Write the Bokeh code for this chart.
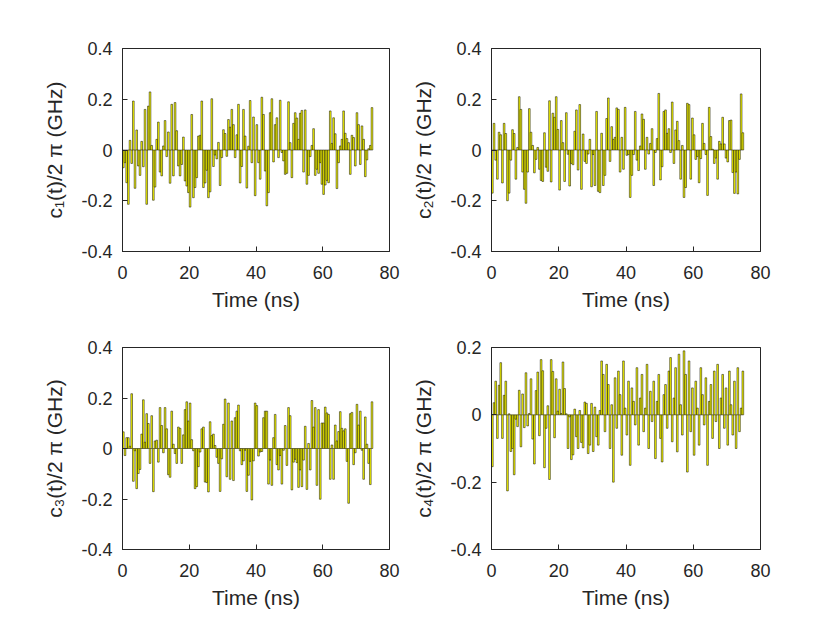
import math
from bokeh.plotting import figure
from bokeh.layouts import column, row
from bokeh.models import Range1d, FixedTicker
from bokeh.embed import file_html
from bokeh.resources import INLINE

dt = 0.5  # ns per pulse segment

c1 = [-0.07, -0.05, -0.129, -0.214, 0.038, -0.053, 0.193, -0.151, 0.079, -0.063,
      -0.1, 0.034, -0.066, 0.16, -0.214, 0.173, 0.229, 0.018, -0.198, -0.146,
      0.042, 0.11, -0.087, -0.102, 0.016, 0.116, -0.026, 0.071, -0.131, 0.18,
      -0.102, 0.187, 0.076, -0.063, -0.102, -0.057, 0.051, -0.122, -0.142, -0.168,
      -0.225,
      0.14, -0.188, -0.148, -0.109, 0.055, 0.058, 0.193, -0.148, -0.13, -0.08,
      -0.188, -0.165, 0.202, -0.065, -0.02, -0.035, 0.03, -0.14, -0.03, 0.08,
      0.065, -0.025, 0.12, 0.09, 0.16, 0.1, -0.03, 0.06, 0.18, -0.13,
      -0.065, 0.16, 0.055, -0.15, 0.015, 0.195, -0.05, 0.13, -0.18, 0.1,
      -0.05,
      -0.115, 0.208, 0.14, -0.083, -0.22, -0.168, 0.147, 0.202, -0.047, 0.1,
      0.127, -0.03, 0.196, -0.01, -0.043, -0.096, -0.092, 0.19, 0.029, -0.109,
      0.105, 0.147, 0.126, 0.042, 0.145, 0.156, -0.087, 0.158, -0.135, -0.1,
      -0.026, 0.018, 0.084, -0.1, -0.076, -0.092, -0.05, -0.135, -0.175, -0.138,
      -0.12, -0.129, 0.154, 0.026, 0.127, 0.064, -0.152, -0.05, 0.016, 0.042,
      0.154, 0.066, 0.045, 0.029, -0.096, 0.058, 0.049, -0.063, 0.147, 0.1,
      -0.057, 0.095, 0.042, -0.105, -0.039, 0.005, 0.018, 0.167]

c2 = [-0.17, 0.105, -0.04, -0.115, 0.07, 0.06, -0.13, 0.105, 0.065, -0.2,
      -0.17, -0.04, 0.08, 0.065, -0.115, 0.01, 0.21, 0.16, -0.087, -0.155,
      -0.21, -0.087, 0.163, 0.07, 0.018, -0.09, -0.037, 0.01, -0.076, -0.12,
      -0.124, 0.068, -0.068, -0.084, 0.194, -0.126, 0.145, 0.129, 0.21, 0.081,
      -0.158, 0.116, 0.029, -0.124, 0.147, -0.017, -0.142, -0.053, -0.058, 0.074,
      0.158, -0.079, 0.179, -0.155, 0.063, -0.045, -0.053, -0.016, 0.042, -0.145,
      -0.018, -0.14, 0.152, -0.163, -0.168, 0.066, -0.14, -0.1, 0.124, 0.205,
      -0.045, 0.092, 0.042, 0.05, 0.166, 0.16, -0.087, 0.05, -0.076, 0.168,
      -0.021, -0.018, -0.187, -0.1, -0.018, 0.152, -0.04, -0.081, 0.016, 0.142,
      0.121, -0.076, 0.05, -0.016, 0.026, 0.084, -0.14, -0.01, 0.045, 0.223,
      -0.118, -0.066, 0.152, 0.158, 0.066, 0.084, -0.01, 0.189, -0.053, 0.079,
      0.113, 0.037, -0.115, 0.018, -0.187, -0.148, 0.184, 0.179, -0.115, 0.126,
      0.06, -0.037, -0.026, -0.129, -0.034, 0.105, 0.026, -0.018, -0.179, 0.168,
      0.053, 0.003, -0.053, -0.032, -0.115, 0.034, 0.024, 0.129, 0.024, -0.032,
      -0.047, 0.116, 0.118, -0.089, -0.171, -0.087, -0.173, -0.037, 0.221, 0.068]

c3 = [0.066, -0.028, 0.043, 0.043, 0.009, 0.217, -0.13, -0.009, -0.159, -0.099,
      -0.083, 0.057, 0.193, 0.025, 0.138, 0.099, -0.059, 0.13, -0.171, 0.03,
      0.033, -0.054, 0.162, 0.091, -0.017, 0.162, 0.078, -0.104, -0.114, 0.148,
      0.017, -0.02, -0.059, 0.085, 0.08, -0.059, 0.054, 0.154, 0.185, 0.109,
      0.18, 0.035, -0.009, -0.159, -0.151, -0.072, -0.014, 0.078, 0.085, -0.133,
      -0.135, -0.172, 0.106, 0.051, 0.057, 0.012, -0.035, -0.059, -0.17, -0.041,
      0.096, 0.196, -0.112, 0.18, -0.122, 0.109, -0.127, 0.122, 0.148, 0.172,
      -0.009, -0.064, -0.049, -0.007, -0.17, -0.106, -0.051, -0.204, -0.049, 0.18,
      0.17, -0.03, -0.014, -0.012, 0.122, 0.148, 0.148, -0.141, -0.046, -0.146,
      0.043, 0.135, -0.064, -0.085, -0.028, -0.141, -0.007, 0.091, -0.067, 0.162,
      0.13, -0.164, -0.054, -0.043, -0.056, -0.154, -0.085, -0.151, -0.046, 0.088,
      -0.162, 0.02, -0.085, 0.19, 0.085, 0.162, -0.146, 0.154, -0.201, 0.101,
      0.101, 0.164, 0.141, 0.135, -0.122, 0.014, -0.122, 0.093, 0.03, 0.067,
      0.146, 0.08, 0.07, 0.078, -0.051, -0.217, 0.138, 0.143, -0.064, -0.017,
      0.175, 0.093, 0.148, -0.007, -0.122, 0.125, 0.017, -0.059, -0.143, 0.185]

c4 = [-0.154, 0.036, 0.1, -0.07, 0.088, 0.155, -0.07, 0.058, 0.1, -0.226,
      0.003, -0.109, -0.1, -0.178, -0.013, -0.035, 0.073, -0.095, 0.062, -0.038,
      0.125, -0.033, 0.004, 0.107, -0.072, -0.146, 0.072, 0.127, -0.062, 0.164,
      0.131, -0.157, -0.04, 0.027, -0.192, 0.164, 0.129, -0.068, 0.107, 0.011,
      0.076, 0.004, 0.157, 0.078, 0.003, -0.1, -0.006, -0.133, -0.119, 0.017,
      -0.065, -0.1, 0.013, -0.082, -0.098, 0.038, 0.034, -0.115, -0.09, 0.034,
      -0.109, 0.023, -0.065, -0.09, 0.013,
      0.16, 0.12, -0.05, 0.15, 0.09, -0.1, 0.03, -0.2, 0.11, -0.04,
      0.13, 0.06, -0.12, 0.16, 0.02, -0.06, 0.1, -0.15, 0.08, 0.04,
      -0.03, 0.14, -0.09, 0.05, 0.12, -0.05, 0.02, 0.15, -0.1, 0.07,
      -0.02, 0.1, -0.13, 0.04, 0.12, -0.07, -0.14, 0.06, 0.09, -0.04,
      0.13, 0.17, -0.08, 0.05, 0.14, -0.11, 0.18, 0.03, -0.06, 0.19,
      0.12, -0.17, 0.16, -0.05, 0.08, -0.12, 0.1, 0.02, -0.09, 0.14,
      0.06, -0.03, 0.11, -0.15, 0.04, 0.09, -0.07, 0.13, -0.02, 0.15,
      -0.1, 0.05, 0.12, -0.04, 0.08, -0.09, 0.13, 0.03, -0.06, 0.1,
      -0.1, 0.14, -0.05, 0.02, 0.13]

x_range_ab = (0, 80)
x_ticks = [0, 20, 40, 60, 80]
y_ticks_a = [-0.4, -0.2, 0, 0.2, 0.4]
y_ticks_b = [-0.4, -0.2, 0, 0.2]
x_label = "Time (ns)"
y_labels = ["c\u2081(t)/2 \u03c0 (GHz)", "c\u2082(t)/2 \u03c0 (GHz)",
            "c\u2083(t)/2 \u03c0 (GHz)", "c\u2084(t)/2 \u03c0 (GHz)"]

FONT = "Liberation Sans"
TXT = "#262626"
TICK_FS = "18px"
LAB_FS = "21px"


def fmt(v):
    return "0" if v == 0 else ("%g" % v)


def style_axis(ax, ticks):
    ax.ticker = FixedTicker(ticks=ticks)
    ax.major_label_overrides = {float(v): fmt(v) for v in ticks}
    ax.major_tick_in = 5
    ax.major_tick_out = 0
    ax.minor_tick_line_color = None
    ax.axis_line_color = TXT
    ax.major_tick_line_color = TXT
    ax.major_label_text_color = TXT
    ax.major_label_text_font = FONT
    ax.major_label_text_font_size = TICK_FS
    ax.axis_label_text_font = FONT
    ax.axis_label_text_color = TXT
    ax.axis_label_text_font_style = "normal"
    ax.axis_label_text_font_size = LAB_FS


def panel(vals, ylo, yhi, yticks, ylabel, w, h, bl, br, bt, bb):
    xlo, xhi = x_range_ab
    p = figure(width=w, height=h, x_range=Range1d(xlo, xhi), y_range=Range1d(ylo, yhi),
               output_backend="svg", toolbar_location=None,
               min_border_left=bl, min_border_right=br,
               min_border_top=bt, min_border_bottom=bb)
    t = [dt * (i + 0.5) for i in range(len(vals))]
    p.vbar(x=t, top=vals, bottom=0, width=dt, fill_color="#ffff00",
           line_color="#000000", line_width=0.5)
    # inward ticks on the top and right edges of the box (clipped to the frame)
    p.scatter(x=x_ticks, y=[yhi] * len(x_ticks), marker="dash", size=10,
              line_color=TXT, line_width=1)
    p.scatter(x=[xhi] * len(yticks), y=yticks, marker="dash", size=10,
              angle=math.pi / 2, line_color=TXT, line_width=1)
    p.xgrid.visible = False
    p.ygrid.visible = False
    p.outline_line_color = TXT
    p.outline_line_alpha = 1
    p.background_fill_color = "white"
    p.border_fill_color = "white"
    style_axis(p.xaxis[0], x_ticks)
    style_axis(p.yaxis[0], yticks)
    p.xaxis[0].axis_label = x_label
    p.yaxis[0].axis_label = ylabel
    p.xaxis[0].major_label_standoff = 14
    p.yaxis[0].major_label_standoff = 10
    p.xaxis[0].axis_label_standoff = 6
    p.yaxis[0].axis_label_standoff = 12
    return p


p1 = panel(c1, -0.4, 0.4, y_ticks_a, y_labels[0], 407, 320, 122, 18, 48, 69)
p2 = panel(c2, -0.4, 0.4, y_ticks_a, y_labels[1], 383, 320, 84, 30, 48, 69)
p3 = panel(c3, -0.4, 0.4, y_ticks_a, y_labels[2], 407, 299, 122, 18, 27, 69)
p4 = panel(c4, -0.4, 0.2, y_ticks_b, y_labels[3], 383, 299, 84, 30, 26, 70)

layout = column(row(p1, p2), row(p3, p4))
open("out.html", "w").write(file_html(layout, INLINE))
